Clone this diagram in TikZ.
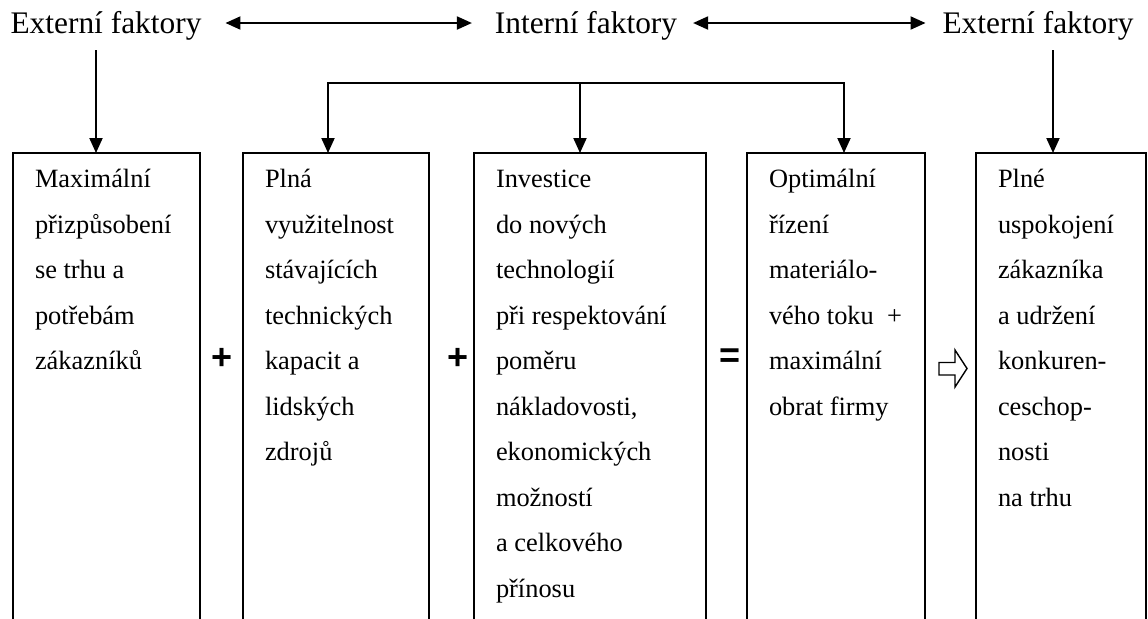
\documentclass[tikz,border=0pt]{standalone}
\usepackage{fontspec}
\setmainfont{Liberation Serif}
\newfontfamily\opfont{Liberation Sans}
\usetikzlibrary{arrows.meta}

\begin{document}
\begin{tikzpicture}[x=0.5pt,y=-0.5pt,
  line width=1pt,
  tip/.style={-{Triangle[length=7.5pt,width=6.5pt]}},
  both/.style={{Triangle[length=7.5pt,width=6.5pt]}-{Triangle[length=7.5pt,width=6.5pt]}},
  box/.style={draw, line width=1pt, inner sep=0pt, outer sep=0pt, anchor=north west, minimum height=245pt},
  factor/.style={font=\fontsize{15.7}{18}\selectfont, inner sep=0pt, text height=11pt, text depth=1pt, anchor=base},
  op/.style={font=\opfont\bfseries\fontsize{18}{20}\selectfont, inner sep=0pt},
  txt/.style={anchor=base west, inner sep=0pt, font=\fontsize{13.2}{22.75}\selectfont}
]
% canvas
\path[use as bounding box] (0,0) rectangle (1148,618);
\clip (0,0) rectangle (1148,618);

% factor labels along the top
\node[factor] (ext1) at (106,33) {Externí faktory};
\node[factor] (int)  at (586,33) {Interní faktory};
\node[factor] (ext2) at (1038,33) {Externí faktory};

\draw[both, shorten <=11.5pt, shorten >=11pt] (ext1.east) -- (int.west);
\draw[both, shorten <=7.5pt, shorten >=8pt] (int.east) -- (ext2.west);

% the five boxes (open at the bottom edge of the page)
\node[box, minimum width=93.5pt] (b1) at (13,153) {};
\node[box, minimum width=93pt]   (b2) at (243,153) {};
\node[box, minimum width=116pt]  (b3) at (474,153) {};
\node[box, minimum width=89pt]   (b4) at (747,153) {};
\node[box, minimum width=85pt]   (b5) at (976,153) {};

% box texts
\node[txt] (t1) at ([xshift=10.5pt,yshift=-17.25pt]b1.north west)
  {\parbox[t]{85pt}{\raggedright Maximální\\ přizpůsobení\\ se trhu a\\ potřebám\\ zákazníků}};
\node[txt] (t2) at ([xshift=10.5pt,yshift=-17.25pt]b2.north west)
  {\parbox[t]{85pt}{\raggedright Plná\\ využitelnost\\ stávajících\\ technických\\ kapacit a\\ lidských\\ zdrojů}};
\node[txt] (t3) at ([xshift=10.5pt,yshift=-17.25pt]b3.north west)
  {\parbox[t]{110pt}{\raggedright Investice\\ do nových\\ technologií\\ při respektování\\ poměru\\ nákladovosti,\\ ekonomických\\ možností\\ a celkového\\ přínosu}};
\node[txt] (t4) at ([xshift=10.5pt,yshift=-17.25pt]b4.north west)
  {\parbox[t]{85pt}{\raggedright Optimální\\ řízení\\ materiálo-\\ vého toku\ \ +\\ maximální\\ obrat firmy}};
\node[txt] (t5) at ([xshift=10.5pt,yshift=-17.25pt]b5.north west)
  {\parbox[t]{80pt}{\raggedright Plné\\ uspokojení\\ zákazníka\\ a udržení\\ konkuren-\\ ceschop-\\ nosti\\ na trhu}};

% operators between the boxes
\node[op] (p1) at (222,359) {+};
\node[op] (p2) at (458,359) {+};
\node[op] (eq) at (730,358) {=};
\draw[line width=0.7pt] (939,362.5) -- (955,362.5) -- (955,350) -- (967,368.5)
  -- (955,387) -- (955,375) -- (939,375) -- cycle;

% external factors feed the outer boxes
\coordinate (x1) at (96,50);
\coordinate (x5) at (1053,50);
\draw[tip] (x1) -- (x1 |- b1.north);
\draw[tip] (x5) -- (x5 |- b5.north);

% internal factors feed the three middle boxes
\coordinate (k2) at (328,83);
\coordinate (k3) at (580,83);
\coordinate (k4) at (844,83);
\draw[both] (k2 |- b2.north) -- (k2) -- (k4) -- (k4 |- b4.north);
\draw[tip] (k3) -- (k3 |- b3.north);
\end{tikzpicture}
\end{document}
